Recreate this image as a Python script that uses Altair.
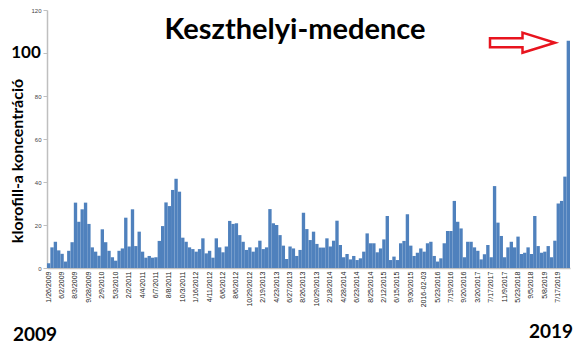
import json
import altair as alt
import pandas as pd

values = [
    2.2, 9.6, 12.2, 8.2, 6.6, 3.0, 8.0, 12.0, 30.4, 21.5,
    27.3, 30.4, 20.5, 9.6, 7.6, 5.7, 18.0, 12.0, 8.0, 5.0,
    3.4, 8.0, 9.1, 23.4, 10.0, 27.3, 10.2, 16.9, 7.6, 4.8,
    5.6, 4.8, 5.0, 12.6, 19.5, 30.5, 28.8, 36.3, 41.5, 35.5,
    14.1, 12.2, 9.6, 8.8, 7.6, 8.8, 13.8, 6.8, 8.0, 4.8,
    13.8, 9.6, 7.3, 10.0, 21.9, 20.5, 20.8, 15.3, 12.2, 8.4,
    9.6, 7.6, 9.6, 12.7, 8.8, 9.6, 27.4, 20.8, 20.0, 15.3,
    10.4, 4.2, 10.0, 9.1, 5.6, 8.4,
    25.7, 18.1, 13.0, 16.9, 11.2, 9.5, 9.5, 13.8, 10.0, 12.7,
    22.0, 10.7, 5.0, 6.5, 4.0, 5.6, 3.7, 4.5, 7.6, 16.1,
    11.5, 11.5, 7.3, 9.1, 13.3, 24.2, 3.7, 5.3, 3.7, 11.5,
    12.6, 25.0, 10.4, 5.6, 7.1, 9.1, 7.6, 11.5, 12.2, 5.6, 3.0,
    4.5, 11.5, 17.2, 17.2, 31.2, 21.5, 18.4, 5.0, 12.2, 12.2,
    9.6, 8.0, 4.0, 6.4, 10.7, 5.0, 38.1, 21.1, 14.9, 5.0,
    9.6, 12.2, 9.6, 14.6, 6.5, 7.1, 9.6, 6.5, 24.2, 10.2,
    7.1, 7.6, 10.2, 5.0, 12.7, 30.0, 31.2, 42.5, 105.7,
]

tick_labels = [
    "1/26/2009", "6/2/2009", "8/3/2009", "9/28/2009", "2/9/2010", "5/3/2010",
    "2/2/2011", "4/4/2011", "6/7/2011", "8/8/2011", "10/3/2011", "1/16/2012",
    "4/11/2012", "6/6/2012", "8/6/2012", "10/29/2012", "2/19/2013", "4/23/2013",
    "6/27/2013", "8/26/2013", "10/29/2013", "2/18/2014", "4/28/2014", "6/23/2014",
    "8/25/2014", "2/12/2015", "6/15/2015", "9/30/2015", "2016-02-03", "5/23/2016",
    "7/19/2016", "9/20/2016", "3/20/2017", "7/17/2017", "11/9/2017", "5/23/2018",
    "9/5/2018", "5/8/2019", "7/17/2019",
]
LABEL_STEP = 4

title_text = "Keszthelyi-medence"
y_title = "klorofill-a koncentráció"
big_100 = "100"
start_year = "2009"
end_year = "2019"

df = pd.DataFrame({"i": list(range(len(values))), "v": values})
one = pd.DataFrame({"a": [0]})

label_expr = f"{json.dumps(tick_labels)}[floor(datum.value / {LABEL_STEP})]"

bars = alt.Chart(df).mark_bar(color="#4F81BD").encode(
    x=alt.X(
        "i:O",
        scale=alt.Scale(paddingInner=0.0, paddingOuter=0.0),
        axis=alt.Axis(
            values=list(range(0, len(values), LABEL_STEP)),
            labelExpr=label_expr,
            labelAngle=270,
            labelAlign="right",
            labelBaseline="middle",
            labelFontSize=7,
            labelColor="#222222",
            labelFont="Liberation Sans",
            labelPadding=3,
            ticks=False,
            domainColor="#bfbfbf",
            domainWidth=1.5,
            title=None,
        ),
    ),
    y=alt.Y(
        "v:Q",
        scale=alt.Scale(domain=[0, 120], nice=False),
        axis=alt.Axis(
            values=[0, 20, 40, 60, 80, 100, 120],
            labelExpr="datum.value == 100 ? '' : datum.label",
            labelFontSize=6,
            labelColor="#444444",
            labelFont="Liberation Sans",
            labelPadding=2,
            tickSize=4,
            tickColor="#bfbfbf",
            domainColor="#bfbfbf",
            domainWidth=1.5,
            grid=False,
            title=None,
        ),
    ),
)

def txt(text, x, y, size, angle=0):
    return alt.Chart(one).mark_text(
        text=text, font="Lato", fontWeight="bold", fontSize=size,
        color="#000000", align="center", baseline="middle", angle=angle,
    ).encode(x=alt.value(x), y=alt.value(y))

title = txt(title_text, 248, 20, 29)
ytitle = txt(y_title, -29, 151, 16, angle=270)
hundred = txt(big_100, -21, 43, 17)
y2009 = txt(start_year, -12, 325, 19)
y2019 = txt(end_year, 504, 322, 19)

arrow_path = "M-1,-0.14L0,-0.14L0,-0.31L1,0L0,0.31L0,0.14L-1,0.14Z"
arrow = alt.Chart(one).mark_point(
    shape=arrow_path, size=4225, filled=False, stroke="#e8141e",
    strokeWidth=2.5, opacity=1,
).encode(x=alt.value(475.5), y=alt.value(32.7))

chart = alt.layer(bars, title, ytitle, hundred, y2009, y2019, arrow).properties(
    width=523,
    height=258,
    padding={"left": 47, "top": 10, "right": 10, "bottom": 83},
    autosize=alt.AutoSizeParams(type="none"),
).configure_view(stroke=None)

chart.save("out.html", embed_options={"renderer": "svg", "actions": False})
